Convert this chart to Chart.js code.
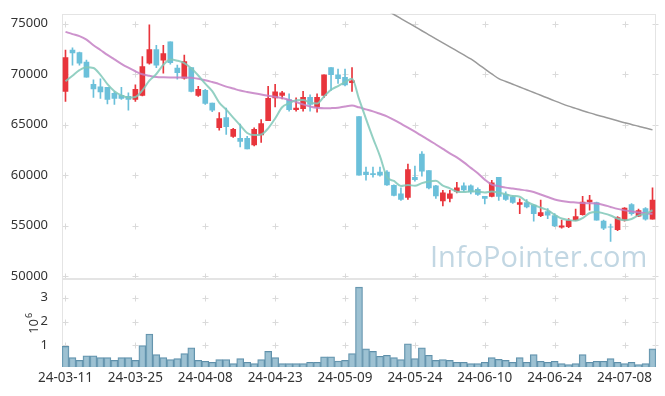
<!DOCTYPE html>
<html>
<head>
<meta charset="utf-8">
<script src="https://cdn.jsdelivr.net/npm/chart.js@4.4.1/dist/chart.umd.min.js"></script>
<style>
  html, body { margin: 0; padding: 0; background: #fff; }
  #wrap { width: 665px; height: 396px; }
</style>
</head>
<body>
<div id="wrap"><canvas id="stockChart" width="665" height="396"></canvas></div>
<script>
// ---- data (prices in KRW, volume in millions of shares) ----
const dates = [
  "24-03-11","24-03-12","24-03-13","24-03-14","24-03-15","24-03-18","24-03-19","24-03-20","24-03-21","24-03-22",
  "24-03-25","24-03-26","24-03-27","24-03-28","24-03-29","24-04-01","24-04-02","24-04-03","24-04-04","24-04-05",
  "24-04-08","24-04-09","24-04-11","24-04-12","24-04-15","24-04-16","24-04-17","24-04-18","24-04-19","24-04-22",
  "24-04-23","24-04-24","24-04-25","24-04-26","24-04-29","24-04-30","24-05-02","24-05-03","24-05-07","24-05-08",
  "24-05-09","24-05-10","24-05-13","24-05-14","24-05-16","24-05-17","24-05-20","24-05-21","24-05-22","24-05-23",
  "24-05-24","24-05-27","24-05-28","24-05-29","24-05-30","24-05-31","24-06-03","24-06-04","24-06-05","24-06-07",
  "24-06-10","24-06-11","24-06-12","24-06-13","24-06-14","24-06-17","24-06-18","24-06-19","24-06-20","24-06-21",
  "24-06-24","24-06-25","24-06-26","24-06-27","24-06-28","24-07-01","24-07-02","24-07-03","24-07-04","24-07-05",
  "24-07-08","24-07-09","24-07-10","24-07-11","24-07-12"
];

const opens = [
  68300, 72400, 72150, 71200, 69000, 68750, 68700, 68100, 67900, 67800,
  67500, 67900, 71100, 72450, 71400, 73200, 70600, 69600, 70650, 67900,
  68400, 67150, 64700, 65700, 63850, 63650, 63650, 63000, 64000, 65400,
  67650, 67900, 67500, 66500, 66600, 67700, 66750, 67900, 70650, 69950,
  69700, 69150, 65800, 60300, 60150, 60300, 60300, 59000, 58150, 57800,
  59800, 62100, 60450, 58950, 57450, 57700, 58400, 58950, 58950, 58600,
  57900, 57900, 59800, 58100, 57850, 57100, 57300, 57050, 56000, 56400,
  56000, 54850, 54900, 55550, 56100, 57350, 57300, 55450, 54900, 54600,
  55550, 57100, 55950, 56700, 55650
];
const highs = [
  72400, 72600, 72200, 71400, 69450, 69550, 68700, 68250, 68700, 68150,
  68950, 71750, 74900, 72850, 72850, 73200, 70900, 71900, 70650, 68800,
  68500, 67150, 66200, 66650, 64650, 65050, 63850, 64700, 65500, 68800,
  69000, 68300, 68050, 67650, 68300, 67950, 68050, 69950, 70650, 70500,
  70500, 70650, 65800, 60800, 60800, 60800, 60450, 59050, 58750, 61100,
  60900, 62350, 60450, 59000, 58500, 58500, 59300, 59250, 59050, 58750,
  57900, 59500, 59800, 58350, 57950, 57650, 57600, 57100, 57550, 56700,
  56200, 55550, 55700, 56650, 57900, 58000, 57350, 55550, 55150, 55900,
  56800, 57200, 56650, 56800, 58750
];
const lows = [
  67300, 70900, 70900, 69700, 67700, 67600, 67050, 67000, 67500, 66450,
  67300, 67850, 71000, 70650, 70100, 71000, 69500, 69500, 68250, 67800,
  67000, 66300, 64450, 64050, 63750, 62800, 62600, 62900, 63250, 65400,
  66750, 67550, 66350, 66350, 66350, 66350, 66250, 67700, 68400, 69100,
  68850, 68300, 60000, 59500, 59800, 59900, 59000, 57950, 57500, 57600,
  59400, 59900, 58650, 57700, 56950, 57350, 58250, 58400, 58150, 58000,
  57150, 57850, 57500, 57500, 57200, 56200, 56750, 55450, 55900, 55700,
  54900, 54750, 54800, 55500, 56050, 56550, 55550, 54600, 53450, 54500,
  55450, 56050, 55900, 55550, 55650
];
const closes = [
  71650, 72100, 71100, 69700, 68550, 68250, 67500, 67600, 67600, 67500,
  68500, 70750, 72450, 70900, 72050, 71150, 70150, 71250, 68300, 68500,
  67100, 66450, 65600, 64800, 64550, 63350, 62600, 64550, 65100, 67600,
  68250, 68150, 66500, 66650, 67700, 67000, 67700, 69950, 69950, 69550,
  68950, 69350, 60000, 60050, 60050, 60000, 59050, 58000, 57600, 60550,
  59550, 60400, 58750, 57950, 58250, 58150, 58750, 58550, 58350, 58100,
  57700, 59250, 57900, 57600, 57300, 57300, 56850, 56200, 56300, 56050,
  55000, 55000, 55500, 55900, 57350, 57550, 55550, 54750, 54850, 55800,
  56750, 56200, 56500, 55650, 57550
];

// moving averages
const ma5 = [
  69300, 69850, 70400, 70700, 70620, 69940, 69020, 68320, 67900, 67690,
  67750, 68390, 69360, 70020, 70930, 71460, 71340, 71100, 70580, 69870,
  69060, 68320, 67190, 66490, 65700, 64950, 64180, 63970, 64030, 64640,
  65620, 66730, 67120, 67430, 67450, 67200, 67110, 67800, 68460, 68830,
  69220, 69550, 67560, 65580, 63680, 61890, 59830, 59430, 58940, 59040,
  58950, 59220, 59370, 59440, 58980, 58700, 58370, 58330, 58410, 58380,
  58290, 58390, 58260, 58110, 57950, 57870, 57390, 57050, 56790, 56540,
  56080, 55710, 55570, 55490, 55750, 56260, 56370, 56220, 56010, 55700,
  55540, 55670, 56020, 56180, 56530
];
const ma20 = [
  74190, 73970, 73770, 73430, 72870, 72400, 71910, 71470, 71030, 70640,
  70290, 70000, 69850, 69730, 69690, 69680, 69680, 69680, 69660, 69560,
  69410, 69220, 69020, 68770, 68580, 68380, 68240, 68110, 67990, 67870,
  67760, 67650, 67450, 67250, 67010, 66810, 66670, 66620, 66640, 66690,
  66810, 66890, 66720, 66520, 66320, 66080, 65830, 65490, 65100, 64710,
  64310, 63890, 63480, 63040, 62600, 62160, 61760, 61270, 60730, 60200,
  59560, 59070, 58920, 58770, 58680, 58580, 58480, 58330, 58090, 57840,
  57600, 57450, 57350, 57300, 57250, 57220, 57190, 57060, 56860, 56670,
  56520, 56420, 56320, 56230, 56180
];
const ma120 = [
  null, null, null, null, null, null, null, null, null, null,
  null, null, null, null, null, null, null, null, null, null,
  null, null, null, null, null, null, null, null, null, null,
  null, null, null, null, null, null, null, null, null, null,
  null, null, null, null, null, 76720, 76310, 75910, 75510, 75110,
  74710, 74300, 73900, 73500, 73110, 72710, 72300, 71910, 71510, 71030,
  70530, 70030, 69560, 69280, 69010, 68740, 68460, 68190, 67910, 67640,
  67360, 67090, 66840, 66620, 66390, 66170, 65970, 65780, 65590, 65390,
  65200, 65030, 64840, 64670, 64490
];

const volumes = [
  0.96, 0.49, 0.38, 0.57, 0.57, 0.49, 0.49, 0.38, 0.49, 0.49,
  0.38, 0.99, 1.48, 0.62, 0.49, 0.41, 0.45, 0.66, 0.90, 0.38,
  0.34, 0.30, 0.41, 0.41, 0.24, 0.45, 0.30, 0.24, 0.41, 0.75,
  0.49, 0.24, 0.24, 0.24, 0.24, 0.30, 0.30, 0.53, 0.53, 0.35,
  0.38, 0.66, 3.44, 0.86, 0.75, 0.55, 0.59, 0.49, 0.41, 1.07,
  0.45, 0.90, 0.59, 0.38, 0.41, 0.38, 0.30, 0.30, 0.24, 0.24,
  0.30, 0.49, 0.42, 0.38, 0.30, 0.49, 0.30, 0.62, 0.34, 0.30,
  0.34, 0.24, 0.20, 0.24, 0.62, 0.30, 0.34, 0.34, 0.45, 0.30,
  0.24, 0.30, 0.20, 0.24, 0.86
];

const priceTicks = [50000, 55000, 60000, 65000, 70000, 75000];
const volTicks = [1, 2, 3];

// ---- styling ----
const UP = "#e8353c";
const DOWN = "#6bc0da";
const FONT = "'Noto Sans', sans-serif";

const candleColors = closes.map((c, i) => (c > opens[i] ? UP : DOWN));
const bodies = opens.map((o, i) => [o, closes[i]]);
const wicks = lows.map((l, i) => [l, highs[i]]);

// small "+" marks instead of grid lines, pane borders, watermark, 10^6 title
const paneDecor = {
  id: "paneDecor",
  beforeDatasetsDraw(chart) {
    const { ctx, chartArea, scales } = chart;
    const x = scales.x, yp = scales.y, yv = scales.vol;
    ctx.save();

    // watermark
    const mark = "InfoPointer.com";
    ctx.font = "30px 'Open Sans', sans-serif";
    const size = 30 * 217 / ctx.measureText(mark).width;
    ctx.font = size.toFixed(1) + "px 'Open Sans', sans-serif";
    ctx.fillStyle = "#c2d7e3";
    ctx.textBaseline = "alphabetic";
    ctx.textAlign = "left";
    ctx.fillText(mark, 430, 267);

    // crosses
    ctx.strokeStyle = "#dadada";
    ctx.lineWidth = 1;
    ctx.beginPath();
    const xs = x.ticks.map((t, i) => Math.round(x.getPixelForTick(i)) + 0.5);
    xs.push(Math.round(chartArea.right) - 0.5);
    [yp, yv].forEach(s => {
      s.ticks.forEach(t => {
        const py = Math.round(s.getPixelForValue(t.value)) + 0.5;
        xs.forEach(px => {
          ctx.moveTo(px - 3, py); ctx.lineTo(px + 3, py);
          ctx.moveTo(px, py - 3); ctx.lineTo(px, py + 3);
        });
      });
    });
    ctx.stroke();

    // pane borders
    ctx.strokeStyle = "#e4e4e4";
    const l = Math.round(chartArea.left) + 0.5;
    const r = Math.round(chartArea.right) - 0.5;
    [yp, yv].forEach(s => {
      const t = Math.round(s.top) + 0.5;
      const b = Math.round(s.bottom) - 0.5;
      ctx.strokeRect(l, t, r - l, b - t);
    });
    ctx.restore();
  },
  afterDraw(chart) {
    const { ctx } = chart;
    const yv = chart.scales.vol;
    const cy = (yv.top + yv.bottom) / 2 + 11;
    ctx.save();
    ctx.translate(38, cy);
    ctx.rotate(-Math.PI / 2);
    ctx.fillStyle = "#333";
    ctx.textBaseline = "alphabetic";
    ctx.textAlign = "left";
    ctx.font = "13px " + FONT;
    ctx.fillText("10", 0, 0);
    const w = ctx.measureText("10").width;
    ctx.font = "9px " + FONT;
    ctx.fillText("6", w + 1, -6);
    ctx.restore();
  }
};

const ctx = document.getElementById("stockChart").getContext("2d");
new Chart(ctx, {
  data: {
    labels: dates,
    datasets: [
      {
        type: "line", label: "MA5", data: ma5, yAxisID: "y",
        borderColor: "rgba(128,200,184,0.85)", borderWidth: 2,
        pointRadius: 0, cubicInterpolationMode: "monotone", order: 0
      },
      {
        type: "line", label: "MA20", data: ma20, yAxisID: "y",
        borderColor: "rgba(196,128,196,0.85)", borderWidth: 2,
        pointRadius: 0, cubicInterpolationMode: "monotone", order: 0
      },
      {
        type: "line", label: "MA120", data: ma120, yAxisID: "y",
        borderColor: "#9a9a9a", borderWidth: 1.5,
        pointRadius: 0, cubicInterpolationMode: "monotone", order: 0
      },
      {
        type: "bar", label: "body", data: bodies, yAxisID: "y",
        backgroundColor: candleColors, barThickness: 5, grouped: false, order: 1
      },
      {
        type: "bar", label: "wick", data: wicks, yAxisID: "y",
        backgroundColor: candleColors, barThickness: 1, grouped: false, order: 2
      },
      {
        type: "bar", label: "volume", data: volumes, yAxisID: "vol",
        backgroundColor: "rgba(140,182,202,0.85)", borderColor: "#5f90aa", borderWidth: 1,
        barPercentage: 1, categoryPercentage: 1, grouped: false, order: 3
      }
    ]
  },
  options: {
    responsive: false,
    animation: false,
    layout: { padding: { top: 10, right: 9, left: 0, bottom: 0 } },
    plugins: { legend: { display: false }, tooltip: { enabled: false } },
    scales: {
      x: {
        type: "category",
        offset: true,
        grid: { display: false },
        border: { display: false },
        ticks: { autoSkip: false, maxRotation: 0, padding: -5, color: "#333", font: { family: FONT, size: 13.5 } },
        afterBuildTicks: s => { s.ticks = s.ticks.filter((t, i) => i % 10 === 0); },
        afterFit: s => { s.height = 29; }
      },
      vol: {
        type: "linear", position: "left", stack: "pane", stackWeight: 1,
        min: 0.1, max: 3.79,
        grid: { display: false },
        border: { display: false },
        ticks: { padding: 6, color: "#333", font: { family: FONT, size: 13 }, callback: v => String(v) },
        afterBuildTicks: s => { s.ticks = volTicks.map(v => ({ value: v })); },
        afterFit: s => { s.width = 62; }
      },
      y: {
        type: "linear", position: "left", stack: "pane", stackWeight: 3,
        min: 49755, max: 75980,
        grid: { display: false },
        border: { display: false },
        ticks: { padding: 6, color: "#333", font: { family: FONT, size: 13 }, callback: v => String(v) },
        afterBuildTicks: s => { s.ticks = priceTicks.map(v => ({ value: v })); },
        afterFit: s => { s.width = 62; }
      }
    }
  },
  plugins: [paneDecor]
});
</script>
</body>
</html>
